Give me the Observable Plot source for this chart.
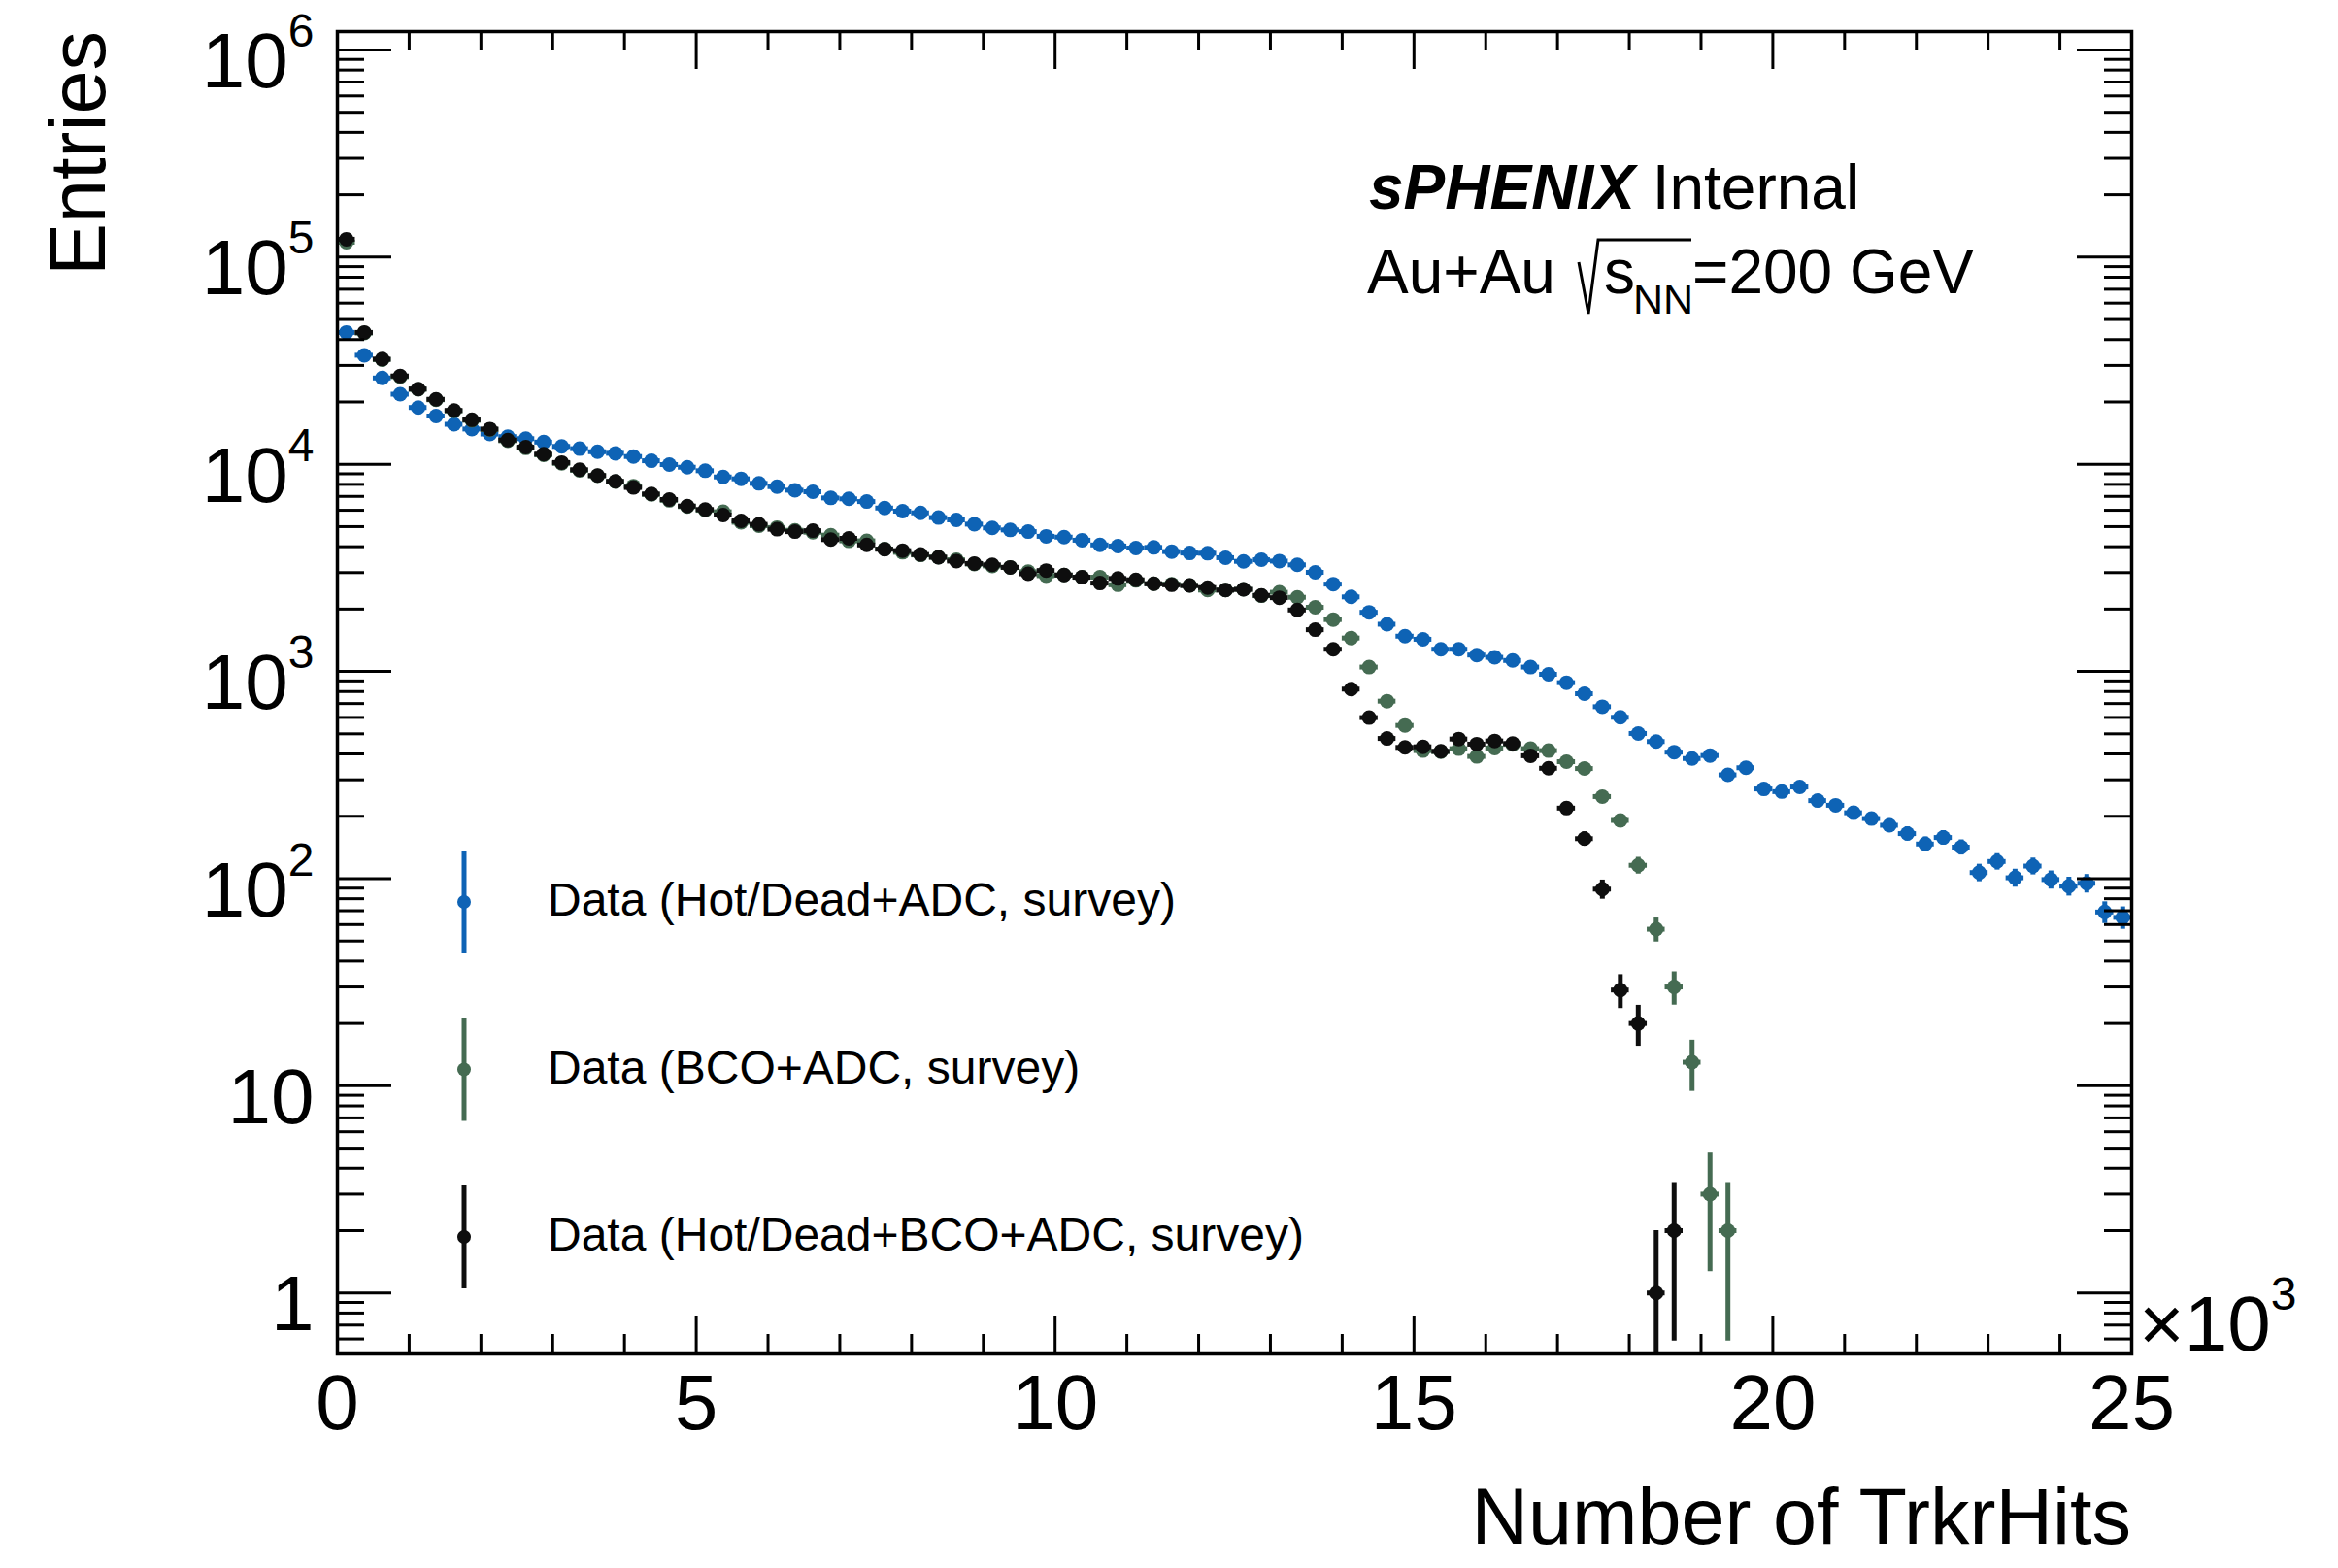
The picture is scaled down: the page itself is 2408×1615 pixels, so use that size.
<!DOCTYPE html>
<html><head><meta charset="utf-8">
<script src="https://cdn.jsdelivr.net/npm/d3@7"></script>
<script src="https://cdn.jsdelivr.net/npm/@observablehq/plot@0.6"></script>
<style>html,body{margin:0;padding:0;background:#fff;} #chart{width:2408px;height:1615px;position:relative;}</style>
</head><body><div id="chart"></div>
<script>
const FONT = "'Liberation Sans', Arial, Helvetica, sans-serif";

// ---- data ----
const binWidth = 250; // TrkrHits per bin, bins start at 0
const xMajorTicks = [0, 5000, 10000, 15000, 20000, 25000];
const xTickLabels = ["0", "5", "10", "15", "20", "25"];
const yMajorTicks = [1, 10, 100, 1000, 10000, 100000, 1000000];
const yTickLabels = ["1", "10", "10^2", "10^3", "10^4", "10^5", "10^6"];
const yDomain = [0.508, 1.227e6];

const seriesNames = [
  "Data (Hot/Dead+ADC, survey)",
  "Data (BCO+ADC, survey)",
  "Data (Hot/Dead+BCO+ADC, survey)"
];
const seriesColors = ["#0e63b5", "#456b52", "#0e0e0e"];

const hotDeadADC = [
  43300, 33600, 26100, 21800, 18800, 17100, 15600, 14800, 14000, 13600,
  13300, 12800, 12200, 11900, 11500, 11300, 10900, 10400, 9970, 9680,
  9310, 8690, 8510, 8090, 7800, 7500, 7370, 6880, 6810, 6610,
  6150, 5940, 5830, 5530, 5390, 5140, 4930, 4820, 4730, 4490,
  4450, 4300, 4080, 4030, 3940, 3970, 3790, 3730, 3720, 3540,
  3400, 3460, 3410, 3270, 3010, 2640, 2290, 1930, 1690, 1480,
  1430, 1280, 1280, 1200, 1170, 1130, 1050, 969, 883, 781,
  676, 601, 502, 459, 408, 380, 393, 317, 343, 271,
  263, 277, 238, 226, 208, 195, 181, 165, 147, 158,
  142, 107, 121, 101, 115, 99, 92, 95, 69, 65
];
const bcoADC = [
  118000, 43000, 32000, 26500, 23000, 20500, 18100, 16300, 14700, 13000,
  12000, 11100, 10100, 9350, 8800, 8250, 7850, 7150, 6700, 6250,
  6000, 5900, 5250, 5050, 4950, 4800, 4700, 4550, 4270, 4270,
  3900, 3760, 3650, 3560, 3460, 3300, 3230, 3180, 3030, 2900,
  2920, 2850, 2850, 2620, 2750, 2650, 2640, 2600, 2470, 2470,
  2490, 2320, 2410, 2280, 2040, 1780, 1450, 1050, 719, 549,
  415, 410, 424, 389, 427, 445, 424, 415, 367, 340,
  249, 191, 116, 57, 30, 13, 3, 2
];
const hotDeadBcoADC = [
  122000, 43300, 32200, 26700, 23100, 20600, 18200, 16400, 14800, 13100,
  12100, 11200, 10200, 9420, 8830, 8280, 7730, 7190, 6760, 6290,
  6050, 5690, 5330, 5130, 4860, 4730, 4780, 4330, 4390, 4080,
  3890, 3830, 3670, 3560, 3410, 3320, 3270, 3180, 2960, 3070,
  2920, 2850, 2670, 2810, 2770, 2650, 2620, 2600, 2540, 2470,
  2490, 2330, 2270, 1980, 1590, 1280, 822, 599, 475, 430,
  433, 412, 472, 446, 462, 449, 392, 341, 219, 156,
  89, 29, 20, 1, 2
];
const allSeries = [hotDeadADC, bcoADC, hotDeadBcoADC];

// ---- table built from the arrays ----
function rowsOf(values, s) {
  const rows = [];
  values.forEach((v, i) => {
    if (v > 0) {
      const e = Math.sqrt(v);
      rows.push({s, x: (i + 0.5) * binWidth, x0: i * binWidth, x1: (i + 1) * binWidth,
                 v, lo: Math.max(v - e, yDomain[0]), hi: v + e});
    }
  });
  return rows;
}

// ---- layout ----
const W = 2408, H = 1615, mL = 347, mR = 213, mT = 32, mB = 221;
const pw = W - mL - mR, ph = H - mT - mB;

const xMinor = d3.range(0, 25001, 1000).filter(d => d % 5000 !== 0);
const yMinor = [];
for (let k = -1; k <= 6; k++) for (let m = 2; m <= 9; m++) {
  const v = m * Math.pow(10, k);
  if (v > yDomain[0] && v < yDomain[1]) yMinor.push(v);
}

const tick = {stroke: "#000", strokeWidth: 3};
const dataMarks = [];
allSeries.forEach((vals, s) => {
  const rows = rowsOf(vals, s);
  const c = seriesColors[s];
  dataMarks.push(
    Plot.ruleY(rows, {y: "v", x1: "x0", x2: "x1", stroke: c, strokeWidth: 5}),
    Plot.ruleX(rows, {x: "x", y1: "lo", y2: "hi", stroke: c, strokeWidth: 5}),
    Plot.dot(rows, {x: "x", y: "v", r: 7.5, fill: c, stroke: "none"})
  );
});

const chart = Plot.plot({
  width: W, height: H,
  marginLeft: mL, marginRight: mR, marginTop: mT, marginBottom: mB,
  style: {fontFamily: FONT, fontSize: "80px", background: "white", color: "black", overflow: "visible"},
  x: {domain: [0, 25000], axis: null},
  y: {type: "log", domain: yDomain, axis: null},
  marks: [
    ...dataMarks,
    Plot.ruleX(xMajorTicks, {...tick, insetTop: ph - 39}),
    Plot.ruleX(xMajorTicks, {...tick, insetBottom: ph - 39}),
    Plot.ruleX(xMinor, {...tick, insetTop: ph - 20}),
    Plot.ruleX(xMinor, {...tick, insetBottom: ph - 20}),
    Plot.ruleY(yMajorTicks, {...tick, insetRight: pw - 56}),
    Plot.ruleY(yMajorTicks, {...tick, insetLeft: pw - 56}),
    Plot.ruleY(yMinor, {...tick, insetRight: pw - 28}),
    Plot.ruleY(yMinor, {...tick, insetLeft: pw - 28}),
    Plot.frame({stroke: "#000", strokeWidth: 3.5}),
    Plot.axisX(xMajorTicks, {tickSize: 0, tickPadding: 21, fontSize: 80,
      tickFormat: d => xTickLabels[xMajorTicks.indexOf(d)]}),
    Plot.axisY(yMajorTicks, {tickSize: 0, tickPadding: 24, fontSize: 80, dy: 13,
      tickFormat: d => yTickLabels[yMajorTicks.indexOf(d)]})
  ]
});
document.getElementById("chart").appendChild(chart);

// superscripts on log labels
const svg = d3.select(chart);
svg.selectAll("text").each(function () {
  const t = this.textContent;
  if (t.includes("^")) {
    const [b, e] = t.split("^");
    const sel = d3.select(this);
    sel.text(null);
    sel.append("tspan").text(b);
    sel.append("tspan").attr("font-size", 48).attr("dy", -42).text(e);
  }
});

// annotations
const ann = svg.append("g").attr("font-family", FONT).attr("fill", "#000")
  .attr("text-anchor", "start").style("text-anchor", "start");
const t1 = ann.append("text").attr("x", 1410).attr("y", 215).attr("font-size", 64);
t1.append("tspan").attr("font-weight", "bold").attr("font-style", "italic").text("sPHENIX");
t1.append("tspan").text(" Internal");

const t2 = ann.append("text").attr("y", 302).attr("font-size", 64);
t2.append("tspan").attr("x", 1408).text("Au+Au");
t2.append("tspan").attr("x", 1652).text("s");
t2.append("tspan").attr("x", 1682).attr("dy", 21).attr("font-size", 43).text("NN");
t2.append("tspan").attr("x", 1743).attr("dy", -21).text("=200 GeV");
ann.append("path").attr("d", "M1626,270 L1636,323 L1646,247 L1742,247")
  .attr("fill", "none").attr("stroke", "#000").attr("stroke-width", 3);

seriesNames.forEach((name, k) => {
  const cy = 929 + 172.5 * k;
  ann.append("line").attr("x1", 478).attr("x2", 478).attr("y1", cy - 53).attr("y2", cy + 53)
    .attr("stroke", seriesColors[k]).attr("stroke-width", 5);
  ann.append("circle").attr("cx", 478).attr("cy", cy).attr("r", 7).attr("fill", seriesColors[k]);
  ann.append("text").attr("x", 564).attr("y", cy + 14).attr("font-size", 48).text(name);
});

ann.append("text").attr("x", 2195).attr("y", 1590).attr("text-anchor", "end").style("text-anchor", "end")
  .attr("font-size", 81).text("Number of TrkrHits");
ann.append("text").attr("transform", "translate(108,32) rotate(-90)")
  .attr("text-anchor", "end").style("text-anchor", "end")
  .attr("font-size", 81).text("Entries");
const t3 = ann.append("text").attr("x", 2203).attr("y", 1391).attr("font-size", 80);
t3.append("tspan").text("×10");
t3.append("tspan").attr("font-size", 48).attr("dy", -42).text("3");
</script>
</body></html>
